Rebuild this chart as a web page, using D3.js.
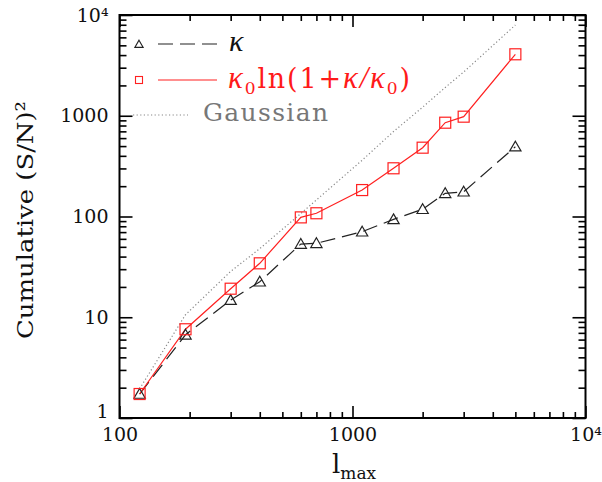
<!DOCTYPE html>
<html>
<head>
<meta charset="utf-8">
<script src="https://cdn.jsdelivr.net/npm/d3@7"></script>
<style>
  body { margin: 0; background: #fff; }
  svg { display: block; font-family: "DejaVu Serif", serif; }
  .kap { font-family: "Liberation Serif", serif; font-style: italic; }
</style>
</head>
<body>
<div id="chart"></div>
<script>
// Multipole cut-off values (x axis)
var lmax = [122, 192, 300, 400, 600, 700, 1100, 1500, 2000, 2500, 3000, 5000];

// Cumulative (S/N)^2 for each estimator
var kappaSN = [1.73, 6.7, 14.8, 22.5, 53.3, 54.2, 70.6, 93.7, 118, 170, 176, 493];
var logKappaSN = [1.73, 7.6, 19.2, 34.3, 98, 107.7, 183, 301, 482, 853, 979, 4074];
var gaussSN = [1.95, 10.6, 28.5, 48, 107, 146, 362, 697, 1217, 1907, 2717, 7950];

// Tick values
var xMajor = [100, 1000, 10000];
var yMajor = [1, 10, 100, 1000, 10000];
var tickLabels = { 1: "1", 10: "10", 100: "100", 1000: "1000", 10000: "10\u2074" };

var width = 602, height = 482;
var plotLeft = 119.5, plotRight = 585.5, plotTop = 15, plotBottom = 418;

var svg = d3.select("#chart").append("svg")
  .attr("width", width)
  .attr("height", height);

var x = d3.scaleLog().domain([100, 10000]).range([plotLeft, plotRight]);
var y = d3.scaleLog().domain([1, 10000]).range([plotBottom, plotTop]);

// minor ticks 2..9 per decade
function minors(domain) {
  var out = [];
  for (var d = domain[0]; d < domain[1]; d *= 10) {
    for (var k = 2; k <= 9; k++) out.push(d * k);
  }
  return out;
}
var xMinor = minors([100, 10000]);
var yMinor = minors([1, 10000]);

function styleAxis(g) {
  g.select(".domain").remove();
  g.selectAll("line").attr("stroke", "#000").attr("stroke-width", 1.6);
  g.selectAll("text").attr("fill", "#111").attr("font-size", 19)
    .attr("font-family", "DejaVu Serif, serif");
}

// bottom axis with labels
svg.append("g").attr("transform", "translate(0," + plotBottom + ")")
  .call(d3.axisBottom(x).tickValues(xMajor).tickSize(-12).tickPadding(10)
    .tickFormat(function (d) { return tickLabels[d]; }))
  .call(styleAxis);
svg.append("g").attr("transform", "translate(0," + plotBottom + ")")
  .call(d3.axisBottom(x).tickValues(xMinor).tickSize(-6).tickFormat(""))
  .call(styleAxis);
// top mirror
svg.append("g").attr("transform", "translate(0," + plotTop + ")")
  .call(d3.axisTop(x).tickValues(xMajor).tickSize(-12).tickFormat(""))
  .call(styleAxis);
svg.append("g").attr("transform", "translate(0," + plotTop + ")")
  .call(d3.axisTop(x).tickValues(xMinor).tickSize(-6).tickFormat(""))
  .call(styleAxis);

// left axis with labels
var yAxisG = svg.append("g").attr("transform", "translate(" + plotLeft + ",0)")
  .call(d3.axisLeft(y).tickValues(yMajor).tickSize(-13).tickPadding(11)
    .tickFormat(function (d) { return tickLabels[d]; }))
  .call(styleAxis);
yAxisG.selectAll("text").filter(function (d) { return d === 1; }).attr("dy", "-0.05em");
svg.append("g").attr("transform", "translate(" + plotLeft + ",0)")
  .call(d3.axisLeft(y).tickValues(yMinor).tickSize(-7).tickFormat(""))
  .call(styleAxis);
// right mirror
svg.append("g").attr("transform", "translate(" + plotRight + ",0)")
  .call(d3.axisRight(y).tickValues(yMajor).tickSize(-13).tickFormat(""))
  .call(styleAxis);
svg.append("g").attr("transform", "translate(" + plotRight + ",0)")
  .call(d3.axisRight(y).tickValues(yMinor).tickSize(-7).tickFormat(""))
  .call(styleAxis);

// frame
svg.append("rect")
  .attr("x", plotLeft).attr("y", plotTop)
  .attr("width", plotRight - plotLeft).attr("height", plotBottom - plotTop)
  .attr("fill", "none").attr("stroke", "#000").attr("stroke-width", 2);

var line = d3.line()
  .x(function (d) { return x(d[0]); })
  .y(function (d) { return y(d[1]); });

function pairs(vals) { return lmax.map(function (l, i) { return [l, vals[i]]; }); }

// Gaussian dotted line
svg.append("path").datum(pairs(gaussSN))
  .attr("d", line).attr("fill", "none")
  .attr("stroke", "#888").attr("stroke-width", 1.2).attr("stroke-dasharray", "1.2,2.4");

// kappa dashed line
svg.append("path").datum(pairs(kappaSN))
  .attr("d", line).attr("fill", "none")
  .attr("stroke", "#222").attr("stroke-width", 1.2).attr("stroke-dasharray", "15,7");

// log-kappa red line
svg.append("path").datum(pairs(logKappaSN))
  .attr("d", line).attr("fill", "none")
  .attr("stroke", "#ff2020").attr("stroke-width", 1.2);

var tri = d3.symbol().type(d3.symbolTriangle).size(55);

svg.append("g").selectAll("path")
  .data(pairs(kappaSN))
  .join("path")
  .attr("d", tri)
  .attr("transform", function (d) { return "translate(" + x(d[0]) + "," + (y(d[1]) + 1) + ")"; })
  .attr("fill", "none").attr("stroke", "#222").attr("stroke-width", 1.2);

svg.append("g").selectAll("rect")
  .data(pairs(logKappaSN))
  .join("rect")
  .attr("x", function (d) { return x(d[0]) - 5.5; })
  .attr("y", function (d) { return y(d[1]) - 5.5; })
  .attr("width", 11).attr("height", 11)
  .attr("fill", "none").attr("stroke", "#ff2020").attr("stroke-width", 1.2);

// legend
var legend = svg.append("g");
legend.append("path").attr("d", d3.symbol().type(d3.symbolTriangle).size(30))
  .attr("transform", "translate(139,45)")
  .attr("fill", "none").attr("stroke", "#222").attr("stroke-width", 1.1);
legend.append("line").attr("x1", 158).attr("x2", 217).attr("y1", 44).attr("y2", 44)
  .attr("stroke", "#222").attr("stroke-width", 1.2).attr("stroke-dasharray", "15,7");
legend.append("text").attr("class", "kap").attr("x", 229).attr("y", 51)
  .attr("font-size", 30).attr("fill", "#111").text("\u03ba");

legend.append("rect").attr("x", 135.5).attr("y", 76.5).attr("width", 7).attr("height", 7)
  .attr("fill", "none").attr("stroke", "#ff2020").attr("stroke-width", 1.1);
legend.append("line").attr("x1", 158).attr("x2", 217).attr("y1", 80).attr("y2", 80)
  .attr("stroke", "#ff2020").attr("stroke-width", 1.2);
var t2 = legend.append("text").attr("x", 228).attr("y", 88)
  .attr("font-size", 27).attr("fill", "#ff1a1a")
  .attr("textLength", 182).attr("lengthAdjust", "spacing");
t2.append("tspan").attr("class", "kap").attr("font-size", 31).text("\u03ba");
t2.append("tspan").attr("font-size", 17).attr("dy", 6).text("0");
t2.append("tspan").attr("dy", -6).text("ln(1+");
t2.append("tspan").attr("class", "kap").attr("font-size", 31).text("\u03ba");
t2.append("tspan").attr("class", "kap").attr("font-size", 31).text("/");
t2.append("tspan").attr("class", "kap").attr("font-size", 31).text("\u03ba");
t2.append("tspan").attr("font-size", 17).attr("dy", 6).text("0");
t2.append("tspan").attr("dy", -6).text(")");

legend.append("line").attr("x1", 133).attr("x2", 188).attr("y1", 115).attr("y2", 115)
  .attr("stroke", "#888").attr("stroke-width", 1.2).attr("stroke-dasharray", "1.2,2.4");
legend.append("text").attr("x", 203).attr("y", 121)
  .attr("font-size", 25).attr("fill", "#777")
  .attr("textLength", 125).attr("lengthAdjust", "spacing").text("Gaussian");

// axis titles
var xt = svg.append("text").attr("x", 332).attr("y", 473)
  .attr("font-size", 26).attr("fill", "#111");
xt.append("tspan").text("l");
xt.append("tspan").attr("font-size", 17).attr("dy", 6).text("max");

svg.append("text")
  .attr("transform", "translate(33,220) rotate(-90)")
  .attr("text-anchor", "middle")
  .attr("font-family", "DejaVu Serif, serif")
  .attr("font-size", 23).attr("fill", "#111")
  .attr("textLength", 238).attr("lengthAdjust", "spacingAndGlyphs")
  .text("Cumulative (S/N)\u00b2");
</script>
</body>
</html>
